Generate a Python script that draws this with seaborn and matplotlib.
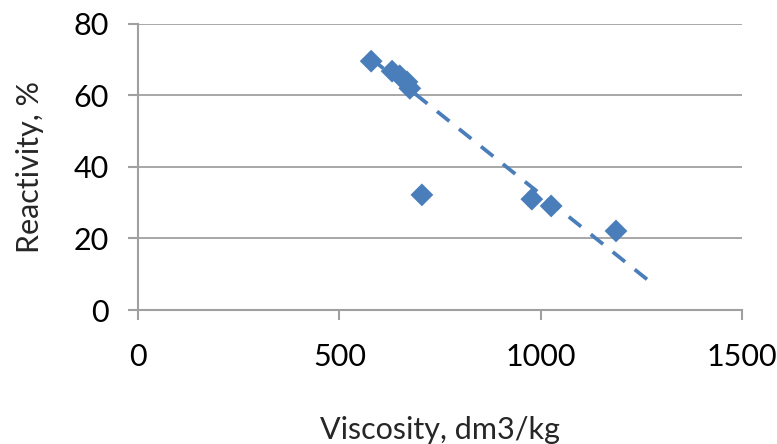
import numpy as np
import pandas as pd
import matplotlib
matplotlib.use('Agg')
import matplotlib.pyplot as plt
import seaborn as sns

# values
viscosity = [579, 631, 650, 668, 675, 705, 978, 1026, 1187]
reactivity = [69.6, 66.8, 65.5, 63.8, 62.0, 32.2, 31.0, 29.1, 22.1]

# linear trendline as drawn (start / end)
trend_x = [579, 1276]
trend_y = [70.3, 7.5]

x_ticks = [0, 500, 1000, 1500]
y_ticks = [0, 20, 40, 60, 80]

blue = '#4A7EBB'
grey = '#A0A0A0'

sns.set_style('white')
plt.rcParams['font.family'] = ['Lato', 'DejaVu Sans']

df = pd.DataFrame({'Viscosity': viscosity, 'Reactivity': reactivity})

fig = plt.figure(figsize=(7.77, 4.44), dpi=100)
ax = fig.add_axes([0.1776, 0.3018, 0.955 - 0.1776, 0.946 - 0.3018])

sns.lineplot(x=trend_x, y=trend_y, ax=ax, color=blue, linewidth=2.7,
             dashes=False, zorder=2)
ax.lines[-1].set_dashes((4.2, 3.3))
sns.scatterplot(data=df, x='Viscosity', y='Reactivity', ax=ax, marker='D',
                s=135, color=blue, edgecolor='none', zorder=3)

ax.set_xlim(0, 1500)
ax.set_ylim(0, 80)
ax.set_xticks(x_ticks)
ax.set_yticks(y_ticks)

ax.yaxis.grid(True, color=grey, linewidth=1.3)
ax.xaxis.grid(False)
ax.set_axisbelow(True)

for side in ['top', 'right']:
    ax.spines[side].set_visible(False)
for side in ['left', 'bottom']:
    ax.spines[side].set_color(grey)
    ax.spines[side].set_linewidth(1.5)

ax.tick_params(axis='both', direction='out', length=7, width=1.5,
               color=grey, labelsize=22, labelcolor='black')
ax.tick_params(axis='y', pad=14, left=True)
ax.tick_params(axis='x', pad=17, bottom=True)

ax.set_xlabel('Viscosity, dm3/kg', fontsize=22)
ax.set_ylabel('Reactivity, %', fontsize=22)
ax.xaxis.set_label_coords(0.5, -0.37)
ax.yaxis.set_label_coords(-0.155, 0.5)

fig.savefig('out.png', dpi=100)
